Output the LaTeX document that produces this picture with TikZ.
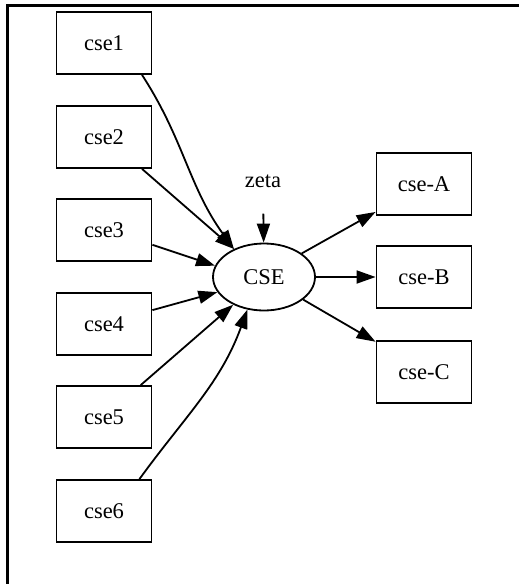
\documentclass[tikz,border=0pt]{standalone}
\usepackage{fontspec}
\setmainfont{Liberation Serif}
\usetikzlibrary{arrows.meta,shapes.geometric}

\begin{document}
\begin{tikzpicture}[x=1pt, y=1pt,
    box/.style={draw, rectangle, line width=1.8pt, minimum width=95pt, minimum height=62pt},
    edge/.style={-{Triangle[length=19pt,width=13pt]}, line width=1.8pt},
    font=\fontsize{22.5}{27}\selectfont]
    \useasboundingbox (0,0) rectangle (519,-584);
    \draw[line width=3pt] (7,-584) -- (7,-5) -- (519,-5);

    \node[box] (cse1) at (104,-43) {cse1};
    \node[box] (cse2) at (104,-137) {cse2};
    \node[box] (cse3) at (104,-230) {cse3};
    \node[box] (cse4) at (104,-324) {cse4};
    \node[box] (cse5) at (104,-417) {cse5};
    \node[box] (cse6) at (104,-511) {cse6};

    \node[draw, ellipse, line width=1.8pt, minimum width=102pt, minimum height=67pt] (cse) at (264,-277) {CSE};
    \node[inner sep=0pt] (zeta) at (263,-181) {zeta};

    \node[box] (cseA) at (424,-184) {cse-A};
    \node[box] (cseB) at (424,-277) {cse-B};
    \node[box] (cseC) at (424,-372) {cse-C};

    \draw[edge] (cse1.-40) to[out=-57, in=126] (cse.137);
    \draw[edge] (cse2.-40) -- (cse.137);
    \draw[edge] (cse3.-17) -- (cse.167);
    \draw[edge] (cse4.16) -- (cse.198);
    \draw[edge] (cse5.41) -- (cse.222);
    \draw[edge] (cse6.42) to[out=54, in=-110] (cse.243);
    \draw[edge, shorten <=26pt] (zeta) -- (cse);

    \draw[edge] (cse.32) -- (cseA.-150);
    \draw[edge] (cse) -- (cseB);
    \draw[edge] (cse.-30) -- (cseC.148);
\end{tikzpicture}
\end{document}
